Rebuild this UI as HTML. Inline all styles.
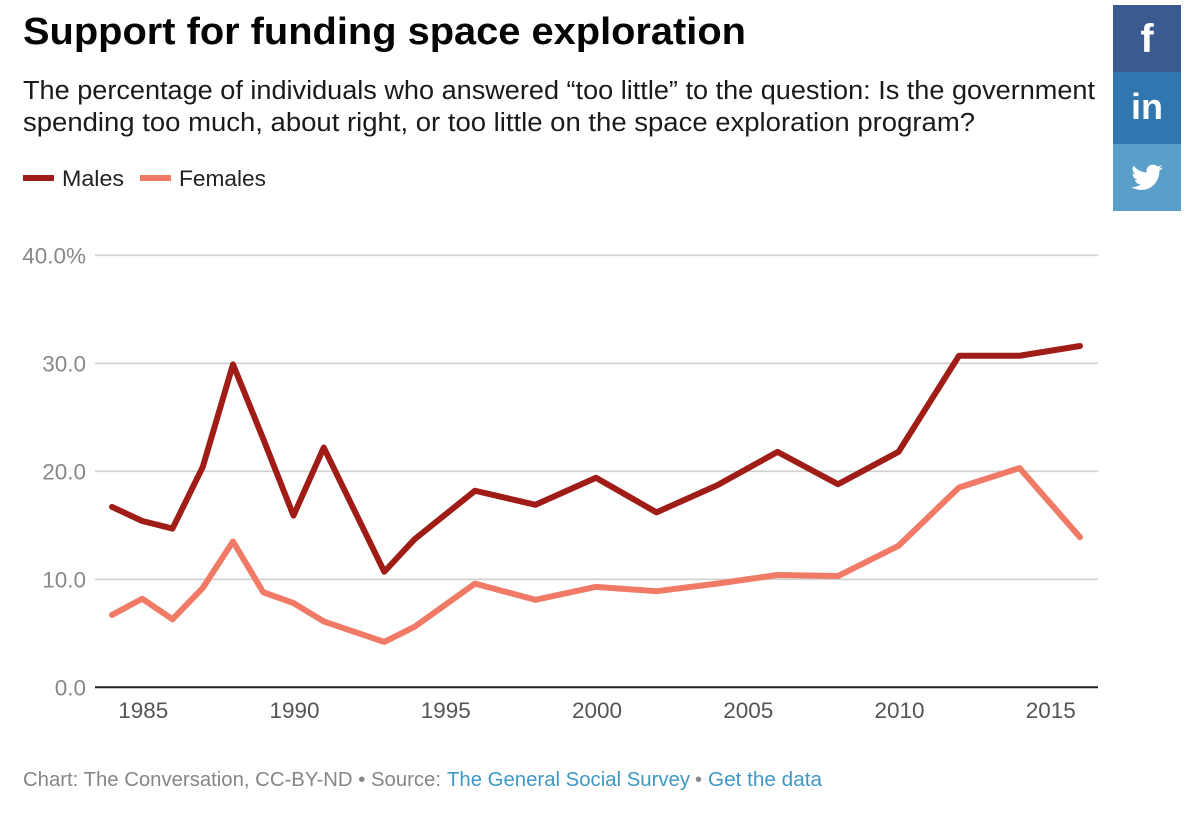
<!DOCTYPE html>
<html>
<head>
<meta charset="utf-8">
<title>Support for funding space exploration</title>
<style>
html,body{margin:0;padding:0;background:#fff;}
svg{display:block;font-family:"Liberation Sans",sans-serif;}
</style>
</head>
<body>
<svg id="chart" width="1200" height="816" viewBox="0 0 1200 816" xmlns="http://www.w3.org/2000/svg">
  <text x="23" y="44" font-size="38" font-weight="700" fill="#050505" textLength="723" lengthAdjust="spacingAndGlyphs">Support for funding space exploration</text>
  <text x="23" y="99" font-size="25.5" fill="#1a1a1a" textLength="1072" lengthAdjust="spacingAndGlyphs">The percentage of individuals who answered “too little” to the question: Is the government</text>
  <text x="23" y="131" font-size="25.5" fill="#1a1a1a" textLength="952" lengthAdjust="spacingAndGlyphs">spending too much, about right, or too little on the space exploration program?</text>

  <g>
    <rect x="23" y="175" width="31" height="6" fill="#a01c17"/>
    <text x="62" y="186" font-size="22.5" fill="#222" textLength="62" lengthAdjust="spacingAndGlyphs">Males</text>
    <rect x="140" y="175" width="31" height="6" fill="#f07a66"/>
    <text x="179" y="186" font-size="22.5" fill="#222" textLength="87" lengthAdjust="spacingAndGlyphs">Females</text>
  </g>

  <g id="y-axis"></g>
  <g id="x-axis"></g>
  <g id="series"></g>

  <text x="23" y="786" font-size="20" fill="#868686" textLength="418" lengthAdjust="spacingAndGlyphs">Chart: The Conversation, CC-BY-ND • Source:</text>
  <text x="447" y="786" font-size="20" fill="#3f97c6" textLength="243" lengthAdjust="spacingAndGlyphs">The General Social Survey</text>
  <text x="695" y="786" font-size="20" fill="#868686">•</text>
  <text x="708" y="786" font-size="20" fill="#3f97c6" textLength="114" lengthAdjust="spacingAndGlyphs">Get the data</text>

  <g>
    <rect x="1113" y="5" width="68" height="67" fill="#3b5b90"/>
    <text x="1147" y="52" font-size="40" font-weight="700" fill="#fff" text-anchor="middle">f</text>
  </g>
  <g>
    <rect x="1113" y="72" width="68" height="72" fill="#2f77ae"/>
    <text x="1147" y="119" font-size="36" font-weight="700" fill="#fff" text-anchor="middle">in</text>
  </g>
  <g>
    <rect x="1113" y="144" width="68" height="67" fill="#5a9fc9"/>
    <path fill="#fff" d="M1162.5 167.5c-1.2.5-2.4.9-3.7 1 1.3-.8 2.3-2 2.8-3.5-1.2.7-2.6 1.3-4 1.6-1.2-1.3-2.8-2-4.7-2-3.5 0-6.4 2.9-6.4 6.4 0 .5.1 1 .2 1.5-5.3-.3-10-2.8-13.2-6.7-.6 1-.9 2.1-.9 3.2 0 2.2 1.1 4.2 2.9 5.3-1 0-2-.3-2.9-.8v.1c0 3.1 2.2 5.7 5.1 6.3-.5.1-1.1.2-1.7.2-.4 0-.8 0-1.2-.1.8 2.5 3.2 4.4 6 4.4-2.2 1.7-5 2.7-8 2.7-.5 0-1 0-1.5-.1 2.8 1.8 6.2 2.9 9.8 2.9 11.8 0 18.2-9.8 18.2-18.2v-.8c1.3-.9 2.4-2 3.2-3.2z"/>
  </g>
</svg>
<script>
const years = [1984, 1985, 1986, 1987, 1988, 1989, 1990, 1991, 1993, 1994, 1996, 1998, 2000, 2002, 2004, 2006, 2008, 2010, 2012, 2014, 2016];
const males = [16.7, 15.4, 14.7, 20.4, 29.9, 23.0, 15.9, 22.2, 10.7, 13.7, 18.2, 16.9, 19.4, 16.2, 18.7, 21.8, 18.8, 21.8, 30.7, 30.7, 31.6];
const females = [6.7, 8.2, 6.3, 9.2, 13.5, 8.8, 7.8, 6.1, 4.2, 5.6, 9.6, 8.1, 9.3, 8.9, 9.6, 10.4, 10.3, 13.1, 18.5, 20.3, 13.9];
const yTicks = [0, 10, 20, 30, 40];
const yTickLabels = ["0.0", "10.0", "20.0", "30.0", "40.0%"];
const xTicks = [1985, 1990, 1995, 2000, 2005, 2010, 2015];

const NS = "http://www.w3.org/2000/svg";
function xScale(year) { return 112 + (year - 1984) * (968 / 32); }
function yScale(value) { return 687.3 - value * 10.8; }
function make(tag, attrs, parent) {
  const el = document.createElementNS(NS, tag);
  for (const k in attrs) el.setAttribute(k, attrs[k]);
  parent.appendChild(el);
  return el;
}

const yAxis = document.getElementById("y-axis");
yTicks.forEach(function (tick, i) {
  const rule = make("line", { x1: 95, x2: 1098, y1: yScale(tick), y2: yScale(tick), stroke: tick === 0 ? "#222" : "#d0d0d0", "stroke-width": tick === 0 ? 2 : 1.6 }, yAxis);
  
  
  const label = make("text", { x: 86, y: yScale(tick) + 8, "font-size": 22.5, fill: "#888", "text-anchor": "end" }, yAxis);
  
  
  label.textContent = yTickLabels[i];
});

const xAxis = document.getElementById("x-axis");
xTicks.forEach(function (tick) {
  const label = make("text", { x: xScale(tick) + 1, y: 718, "font-size": 22.5, fill: "#555", "text-anchor": "middle" }, xAxis);
  
  
  label.textContent = tick;
});

function linePoints(values) {
  return values.map(function (v, i) { return xScale(years[i]).toFixed(2) + "," + yScale(v).toFixed(2); }).join(" ");
}
const seriesGroup = document.getElementById("series");
const femaleLine = make("polyline", { points: linePoints(females), fill: "none", stroke: "#f07a66", "stroke-width": 6, "stroke-linejoin": "round", "stroke-linecap": "round" }, seriesGroup);


const maleLine = make("polyline", { points: linePoints(males), fill: "none", stroke: "#a01c17", "stroke-width": 6, "stroke-linejoin": "round", "stroke-linecap": "round" }, seriesGroup);


</script>
</body>
</html>
